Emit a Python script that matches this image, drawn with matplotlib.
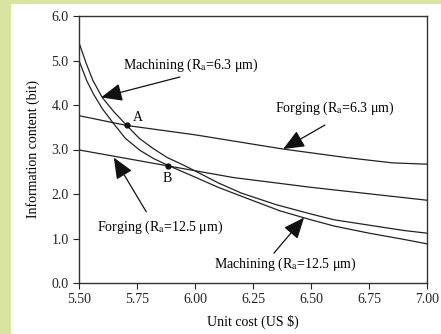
import matplotlib
matplotlib.use("Agg")
import matplotlib.pyplot as plt
from matplotlib.patches import Rectangle

plt.rcParams['font.family'] = ['Liberation Serif', 'DejaVu Serif']
plt.rcParams['mathtext.fontset'] = 'stix'

# machining, Ra = 6.3 um
mach63_x = [5.5, 5.53, 5.56, 5.6, 5.65, 5.706, 5.76, 5.82, 5.88, 5.95, 6.015, 6.1, 6.2, 6.35, 6.5, 6.6, 6.75, 6.9, 7.0]
mach63_y = [5.4, 4.95, 4.55, 4.17, 3.85, 3.54, 3.25, 3.02, 2.82, 2.65, 2.48, 2.25, 2.02, 1.76, 1.55, 1.42, 1.30, 1.18, 1.12]
# machining, Ra = 12.5 um
mach125_x = [5.5, 5.533, 5.562, 5.6, 5.648, 5.7, 5.763, 5.82, 5.885, 6.0, 6.1, 6.2, 6.367, 6.5, 6.6, 6.75, 6.9, 7.0]
mach125_y = [5.0, 4.55, 4.25, 3.92, 3.59, 3.25, 2.98, 2.80, 2.64, 2.38, 2.15, 1.95, 1.62, 1.42, 1.28, 1.12, 0.98, 0.88]
# forging
forg63_x = [5.5, 5.706, 6.0, 6.38, 6.65, 6.85, 7.0]
forg63_y = [3.76, 3.54, 3.33, 3.01, 2.82, 2.70, 2.67]
forg125_x = [5.5, 5.885, 6.165, 6.5, 7.0]
forg125_y = [2.99, 2.63, 2.37, 2.15, 1.86]

pts_x = [5.706, 5.885]
pts_y = [3.54, 2.63]
pts_lbl = ["A", "B"]

xticks = [5.50, 5.75, 6.00, 6.25, 6.50, 6.75, 7.00]
xlabels = ["5.50", "5.75", "6.00", "6.25", "6.50", "6.75", "7.00"]
yticks = [0, 1, 2, 3, 4, 5, 6]
ylabels = ["0.0", "1.0", "2.0", "3.0", "4.0", "5.0", "6.0"]

fig = plt.figure(figsize=(4.41, 3.34), dpi=100)
fig.patch.set_facecolor('#d9e4a3')
fig.patches.append(Rectangle((11/441, 0), 1, 1 - 4/334, transform=fig.transFigure,
                             facecolor='white', edgecolor='none', zorder=-10))

ax = fig.add_axes([79/441, 1 - 283/334, 348/441, (283 - 16)/334])
lc = '#222222'
for xs, ys in [(mach63_x, mach63_y), (mach125_x, mach125_y), (forg63_x, forg63_y), (forg125_x, forg125_y)]:
    ax.plot(xs, ys, color=lc, lw=0.9)
ax.plot(pts_x, pts_y, 'o', color='#111111', ms=3.5)
ax.text(5.73, 3.63, pts_lbl[0], fontsize=10)
ax.text(5.86, 2.28, pts_lbl[1], fontsize=10)

# labels
ax.text(5.69, 4.9, "Machining (R$_\\mathrm{a}$=6.3 μm)", fontsize=10, va='center', ha='left')
ax.text(6.60, 3.93, "Forging (R$_\\mathrm{a}$=6.3 μm)", fontsize=10, va='center', ha='center')
ax.text(5.85, 1.26, "Forging (R$_\\mathrm{a}$=12.5 μm)", fontsize=10, va='center', ha='center')
ax.text(6.39, 0.43, "Machining (R$_\\mathrm{a}$=12.5 μm)", fontsize=10, va='center', ha='center')

# arrows
arrow = dict(arrowstyle='-|>,head_length=1.3,head_width=0.55', color='#111111', lw=0.9, shrinkA=0, shrinkB=0)
ax.annotate("", xy=(5.595, 4.17), xytext=(5.935, 4.63), arrowprops=arrow)
ax.annotate("", xy=(6.38, 3.01), xytext=(6.56, 3.55), arrowprops=arrow)
ax.annotate("", xy=(5.65, 2.82), xytext=(5.79, 1.6), arrowprops=arrow)
ax.annotate("", xy=(6.47, 1.47), xytext=(6.34, 0.67), arrowprops=arrow)

ax.set_xlim(5.5, 7.0)
ax.set_ylim(0, 6)
ax.set_xticks(xticks)
ax.set_xticklabels(xlabels)
ax.set_yticks(yticks)
ax.set_yticklabels(ylabels)
ax.tick_params(direction='out', length=4, width=0.8, labelsize=10, colors='#222222')
for s in ax.spines.values():
    s.set_color('#333333')
    s.set_linewidth(1.0)
ax.set_xlabel("Unit cost (US $)", fontsize=10, labelpad=6)
ax.set_ylabel("Information content (bit)", fontsize=10, labelpad=8)

fig.savefig("out.png", dpi=100)
